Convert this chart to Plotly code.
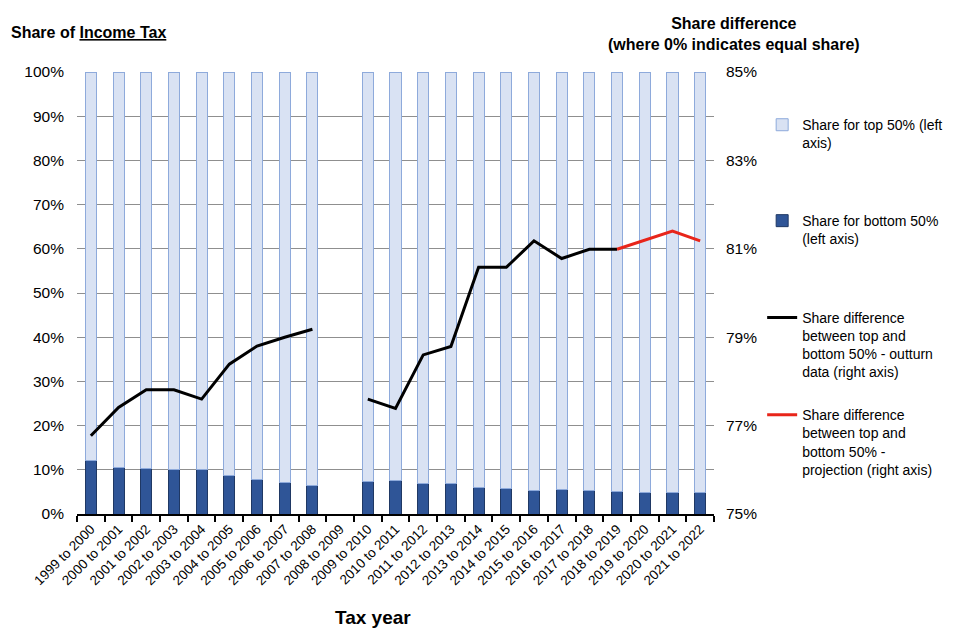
import plotly.graph_objects as go

years = ["1999 to 2000", "2000 to 2001", "2001 to 2002", "2002 to 2003", "2003 to 2004",
         "2004 to 2005", "2005 to 2006", "2006 to 2007", "2007 to 2008", "2008 to 2009",
         "2009 to 2010", "2010 to 2011", "2011 to 2012", "2012 to 2013", "2013 to 2014",
         "2014 to 2015", "2015 to 2016", "2016 to 2017", "2017 to 2018", "2018 to 2019",
         "2019 to 2020", "2020 to 2021", "2021 to 2022"]

bottom_share = [12.1, 10.5, 10.3, 10.1, 10.1, 8.7, 7.8, 7.1, 6.4, None,
                7.3, 7.5, 6.9, 6.9, 6.0, 5.7, 5.3, 5.5, 5.3, 5.1, 4.8, 4.8, 4.8]
top_share = [87.9, 89.5, 89.7, 89.9, 89.9, 91.3, 92.2, 92.9, 93.6, None,
             92.7, 92.5, 93.1, 93.1, 94.0, 94.3, 94.7, 94.5, 94.7, 94.9, 95.2, 95.2, 95.2]
diff_outturn = [76.77, 77.41, 77.81, 77.81, 77.6, 78.39, 78.8, 79.0, 79.18, None,
                77.6, 77.39, 78.6, 78.79, 80.58, 80.58, 81.18, 80.78, 80.99, 80.99,
                None, None, None]
diff_projection = [None, None, None, None, None, None, None, None, None, None,
                   None, None, None, None, None, None, None, None, None, 80.99,
                   81.2, 81.4, 81.18]

FONT = "Liberation Sans, Arial, sans-serif"

fig = go.Figure()
fig.add_trace(go.Bar(
    x=years, y=bottom_share, name="Share for bottom 50%<br>(left axis)",
    marker=dict(color="#2F5597", line=dict(color="#1F3864", width=1)),
    legend="legend2", yaxis="y"))
fig.add_trace(go.Bar(
    x=years, y=top_share, name="Share for top 50% (left<br>axis)",
    marker=dict(color="#D9E2F3", line=dict(color="#8EAADB", width=1)),
    legend="legend", yaxis="y"))
fig.add_trace(go.Scatter(
    x=years, y=diff_outturn, mode="lines",
    name="Share difference<br>between top and<br>bottom 50% - outturn<br>data (right axis)",
    line=dict(color="black", width=3), connectgaps=False, legend="legend3", yaxis="y2"))
fig.add_trace(go.Scatter(
    x=years, y=diff_projection, mode="lines",
    name="Share difference<br>between top and<br>bottom 50% -<br>projection (right axis)",
    line=dict(color="#E8251A", width=3), connectgaps=False, legend="legend4", yaxis="y2"))

LX = 1.0756
leg = dict(x=LX, xanchor="left", yanchor="top", valign="top", visible=True,
           font=dict(size=14), bgcolor="rgba(0,0,0,0)")

fig.update_layout(
    width=960, height=640,
    margin=dict(l=69, r=254, t=64, b=134, autoexpand=False),
    showlegend=True,
    barmode="stack", bargap=0.6,
    plot_bgcolor="white", paper_bgcolor="white",
    font=dict(family=FONT, size=14, color="black"),
    xaxis=dict(tickangle=-45, showline=True, linecolor="black", linewidth=2,
               ticks="outside", ticklen=6, tickwidth=2, tickcolor="black",
               tickson="boundaries", showgrid=False, tickfont=dict(size=13.5),
               automargin=False),
    yaxis=dict(range=[0, 100], dtick=10, ticksuffix="%", showgrid=True,
               gridcolor="#8F8F8F", gridwidth=1, zeroline=False, showline=False,
               ticklabelstandoff=12, tickfont=dict(size=15.5), automargin=False),
    yaxis2=dict(range=[75, 85], tick0=75, dtick=2, ticksuffix="%", overlaying="y",
                side="right", showgrid=False, zeroline=False, showline=False,
                ticklabelstandoff=11, tickfont=dict(size=15.5), automargin=False),
    legend=dict(leg, y=0.916),
    legend2=dict(leg, y=0.699),
    legend3=dict(leg, y=0.480),
    legend4=dict(leg, y=0.260),
    annotations=[
        dict(text="<b>Share of <u>Income Tax</u></b>", xref="paper", yref="paper",
             x=-0.106, y=1.09, xanchor="left", yanchor="middle", showarrow=False,
             font=dict(size=16)),
        dict(text="<b>Share difference<br>(where 0% indicates equal share)</b>",
             xref="paper", yref="paper", x=1.031, y=1.087, xanchor="center",
             yanchor="middle", showarrow=False, font=dict(size=16)),
        dict(text="<b>Tax year</b>", xref="paper", yref="paper", x=0.465, y=-0.235,
             xanchor="center", yanchor="middle", showarrow=False, font=dict(size=19)),
    ],
)

fig.write_html("out.html")
